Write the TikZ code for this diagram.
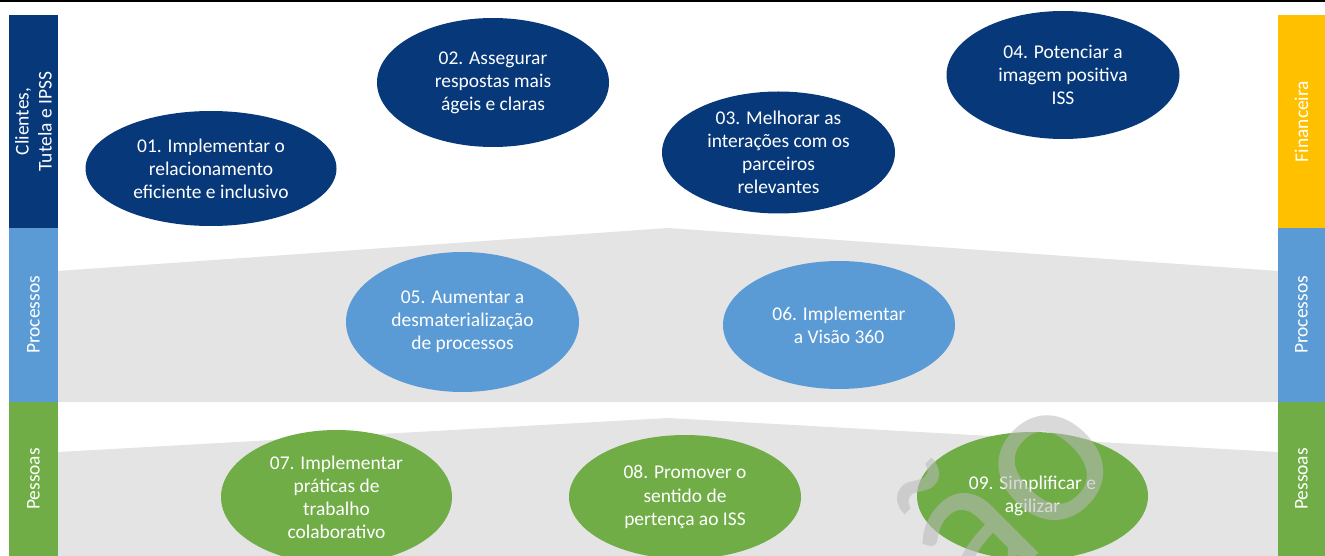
\documentclass[tikz,border=0pt]{standalone}
\usepackage{fontspec}
\setmainfont{Carlito}
\usepackage{tikz}
\usetikzlibrary{shapes.geometric}
\definecolor{navyblue}{RGB}{7,56,122}
\definecolor{procblue}{RGB}{91,155,213}
\definecolor{peoplegreen}{RGB}{112,173,71}
\definecolor{finyellow}{RGB}{255,192,0}
\definecolor{bandgray}{RGB}{228,228,228}
\definecolor{wmgray}{RGB}{185,185,185}
\newcommand{\goalfont}{\fontsize{14.6}{17.3}\selectfont}

\begin{document}
\begin{tikzpicture}[x=0.75pt, y=-0.75pt,
  goal/.style 2 args={ellipse, inner sep=0pt, text=white, align=center, font=\goalfont, minimum width=#1*0.75pt, minimum height=#2*0.75pt},
  bar/.style={rectangle, inner sep=0pt, rotate=90, text=white, align=center, font=\goalfont, minimum width=#1*0.75pt, minimum height=49*0.75pt},
  watermark/.style={rotate=45, anchor=base west, inner sep=0pt, text=wmgray, text opacity=0.55, font=\fontsize{161}{161}\selectfont}]
\useasboundingbox (0,0) rectangle (1325,556);
\clip (0,0) rectangle (1325,556);
\draw[line width=1.5pt] (0,1) -- (1325,1);
%bands
\fill[bandgray] (58,271) -- (668,228) -- (1278,271) -- (1278,402) -- (58,402) -- cycle;
\fill[bandgray] (58,452) -- (668,418) -- (1278,452) -- (1278,556) -- (58,556) -- cycle;
%clientes, tutela e ipss
\node[bar=213, fill=navyblue] (clientes) at (33.5,121.5) {Clientes,\\Tutela e IPSS};
\node[goal={251}{115}, fill=navyblue] (g01) at (211,168.5) {01. Implementar o\\relacionamento\\eficiente e inclusivo};
\node[goal={232}{129}, fill=navyblue] (g02) at (493,82.5) {02. Assegurar\\respostas mais\\ágeis e claras};
\node[goal={233}{122}, fill=navyblue] (g03) at (778.5,152.5) {03. Melhorar as\\interações com os\\parceiros\\relevantes};
\node[goal={233}{128}, fill=navyblue] (g04) at (1063,75) {04. Potenciar a\\imagem positiva\\ISS};
\node[bar=213, fill=finyellow, minimum height=47*0.75pt] (financeira) at (1301.5,121.5) {Financeira};
%processos
\node[bar=174, fill=procblue] (procL) at (33.5,315) {Processos};
\node[goal={233}{140}, fill=procblue] (g05) at (462.5,322) {05. Aumentar a\\desmaterialização\\de processos};
\node[goal={232}{128}, fill=procblue] (g06) at (839,325) {06. Implementar\\a Visão 360};
\node[bar=174, fill=procblue, minimum height=47*0.75pt] (procR) at (1301.5,315) {Processos};
%pessoas
\node[bar=154, fill=peoplegreen] (pessL) at (33.5,479) {Pessoas};
\node[goal={231}{134}, fill=peoplegreen] (g07) at (336.5,497) {07. Implementar\\práticas de\\trabalho\\colaborativo};
\node[goal={232}{124}, fill=peoplegreen] (g08) at (685,497) {08. Promover o\\sentido de\\pertença ao ISS};
\node[goal={231}{128}, fill=peoplegreen] (g09) at (1032.5,496) {09. Simplificar e\\agilizar};
\node[bar=154, fill=peoplegreen, minimum height=47*0.75pt] (pessR) at (1301.5,479) {Pessoas};
%watermark
\node[watermark] (wm) at (975,617) {ão};
\end{tikzpicture}
\end{document}
